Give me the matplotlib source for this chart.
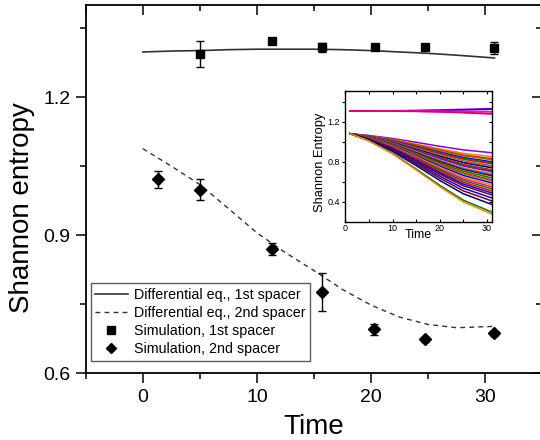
import matplotlib
matplotlib.use("Agg")
import matplotlib.pyplot as plt
from matplotlib.ticker import MultipleLocator

plt.rcParams['font.family'] = ['Liberation Sans', 'DejaVu Sans']

# ---- main chart data ----
t_model = [0, 2.5, 5, 7.5, 10, 12.5, 15, 17.5, 20, 22.5, 25, 27.5, 30.8]
de_first = [1.298, 1.300, 1.301, 1.303, 1.304, 1.304, 1.304, 1.303, 1.301, 1.298, 1.295, 1.291, 1.285]
de_second = [1.088, 1.050, 1.010, 0.958, 0.905, 0.862, 0.823, 0.782, 0.748, 0.722, 0.706, 0.699, 0.702]

t_sim1 = [5.05, 11.3, 15.7, 20.3, 24.7, 30.8]
sim_first = [1.294, 1.321, 1.308, 1.308, 1.309, 1.306]
err_first = [0.028, 0.004, 0.009, 0.004, 0.007, 0.013]

t_sim2 = [1.37, 5.05, 11.35, 15.72, 20.27, 24.73, 30.74]
sim_second = [1.021, 0.999, 0.870, 0.777, 0.696, 0.674, 0.687]
err_second = [0.018, 0.023, 0.013, 0.0415, 0.012, 0.005, 0.005]

legend_labels = ["Differential eq., 1st spacer", "Differential eq., 2nd spacer",
                 "Simulation, 1st spacer", "Simulation, 2nd spacer"]

# ---- inset data ----
t_inset = [1, 5, 10, 15, 20, 25, 31]
inset_upper = [
    [1.305, 1.306, 1.308, 1.311, 1.316, 1.322, 1.330],
    [1.305, 1.306, 1.307, 1.309, 1.312, 1.316, 1.322],
    [1.305, 1.305, 1.306, 1.306, 1.305, 1.302, 1.298],
    [1.305, 1.305, 1.305, 1.303, 1.299, 1.292, 1.282],
    [1.305, 1.305, 1.304, 1.301, 1.296, 1.288, 1.275],
]
inset_upper_colors = ['#8000FF', '#3C00A0', '#FF00FF', '#FF0080', '#E0006E']

inset_lower = [
    [1.079, 1.062, 1.032, 0.994, 0.954, 0.918, 0.890],
    [1.079, 1.058, 1.022, 0.976, 0.928, 0.884, 0.850],
    [1.079, 1.057, 1.017, 0.967, 0.915, 0.867, 0.830],
    [1.079, 1.056, 1.014, 0.962, 0.908, 0.859, 0.820],
    [1.079, 1.054, 1.009, 0.953, 0.895, 0.842, 0.800],
    [1.079, 1.053, 1.007, 0.949, 0.888, 0.833, 0.790],
    [1.079, 1.052, 1.004, 0.944, 0.882, 0.825, 0.780],
    [1.079, 1.050, 0.999, 0.935, 0.868, 0.808, 0.760],
    [1.079, 1.049, 0.997, 0.931, 0.862, 0.799, 0.750],
    [1.079, 1.048, 0.994, 0.926, 0.855, 0.791, 0.740],
    [1.079, 1.047, 0.989, 0.917, 0.842, 0.774, 0.720],
    [1.079, 1.046, 0.987, 0.913, 0.835, 0.765, 0.710],
    [1.079, 1.045, 0.984, 0.908, 0.829, 0.757, 0.700],
    [1.079, 1.043, 0.979, 0.899, 0.816, 0.740, 0.680],
    [1.079, 1.042, 0.977, 0.895, 0.809, 0.731, 0.670],
    [1.079, 1.041, 0.974, 0.890, 0.802, 0.723, 0.660],
    [1.079, 1.039, 0.969, 0.881, 0.789, 0.706, 0.640],
    [1.079, 1.038, 0.964, 0.872, 0.776, 0.689, 0.620],
    [1.079, 1.037, 0.962, 0.868, 0.769, 0.680, 0.610],
    [1.079, 1.035, 0.957, 0.859, 0.756, 0.663, 0.590],
    [1.079, 1.033, 0.952, 0.850, 0.743, 0.646, 0.570],
    [1.079, 1.031, 0.947, 0.841, 0.730, 0.629, 0.550],
    [1.079, 1.030, 0.942, 0.832, 0.717, 0.612, 0.530],
    [1.079, 1.028, 0.937, 0.823, 0.703, 0.595, 0.510],
    [1.079, 1.026, 0.932, 0.814, 0.690, 0.578, 0.490],
    [1.079, 1.024, 0.927, 0.805, 0.677, 0.561, 0.470],
    [1.079, 1.021, 0.919, 0.791, 0.657, 0.536, 0.440],
    [1.079, 1.019, 0.912, 0.778, 0.637, 0.510, 0.410],
    [1.079, 1.016, 0.903, 0.762, 0.614, 0.481, 0.375],
    [1.079, 1.009, 0.884, 0.728, 0.565, 0.417, 0.300],
    [1.079, 1.007, 0.879, 0.719, 0.552, 0.400, 0.280],
]
inset_lower_colors = ['#8000FF', '#FF8000', '#FF0000', '#808000', '#0000FF', '#008000',
                      '#FF0000', '#008080', '#FF8000', '#000080', '#FF0000', '#008000',
                      '#8000FF', '#FF8000', '#0080FF', '#800000', '#008000', '#FF0000',
                      '#808000', '#0000FF', '#FF8000', '#FF0080', '#008000', '#FF0000',
                      '#0000FF', '#800000', '#0000FF', '#800000', '#000080', '#008000',
                      '#FF8000']

# ---- figure ----
fig = plt.figure(figsize=(5.4, 4.4), dpi=100)
ax = fig.add_axes([0.1587, 0.1516, 0.8457, 0.837])

line1, = ax.plot(t_model, de_first, '-', color='#333333', lw=1.2)
line2, = ax.plot(t_model, de_second, color='#333333', lw=1.0, linestyle=(0, (3.5, 3)))
eb1 = ax.errorbar(t_sim1, sim_first, yerr=err_first, fmt='s', color='black',
                  ms=6, capsize=2.8, elinewidth=1, capthick=1)
eb2 = ax.errorbar(t_sim2, sim_second, yerr=err_second, fmt='D', color='black',
                  ms=6, capsize=2.8, elinewidth=1, capthick=1)

ax.set_xlim(-5, 35)
ax.set_ylim(0.6, 1.4)
ax.xaxis.set_major_locator(MultipleLocator(10))
ax.xaxis.set_minor_locator(MultipleLocator(5))
ax.yaxis.set_major_locator(MultipleLocator(0.3))
ax.yaxis.set_minor_locator(MultipleLocator(0.15))
ax.set_yticks([0.6, 0.9, 1.2])
ax.set_yticklabels(['0.6', '0.9', '1.2'])
ax.set_xticks([0, 10, 20, 30])
ax.tick_params(axis='both', which='both', top=True, right=True, labelsize=14, width=1.1, pad=4)
ax.tick_params(axis='both', which='major', length=7)
ax.tick_params(axis='both', which='minor', length=4)
ax.tick_params(axis='x', which='both', direction='out')
ax.tick_params(axis='y', which='both', direction='out')
# top/right ticks inward
for tk in ax.xaxis.get_major_ticks() + ax.xaxis.get_minor_ticks():
    tk.tick2line.set_marker(3)  # TICKDOWN
for tk in ax.yaxis.get_major_ticks() + ax.yaxis.get_minor_ticks():
    tk.tick2line.set_marker(0)  # TICKLEFT
for sp in ax.spines.values():
    sp.set_linewidth(1.3)

ax.set_xlabel('Time', fontsize=20)
ax.set_ylabel('Shannon entropy', fontsize=20)
ax.xaxis.set_label_coords(0.5, -0.11)
ax.yaxis.set_label_coords(-0.112, 0.45)

leg = ax.legend([line1, line2, eb1[0], eb2[0]], legend_labels, loc='lower left',
                bbox_to_anchor=(0.011, 0.034), borderaxespad=0, fontsize=10.3,
                frameon=True, fancybox=False, handlelength=2.3, handletextpad=0.4,
                labelspacing=0.3, borderpad=0.3, markerscale=0.9)
leg.get_frame().set_edgecolor('#333333')
leg.get_frame().set_linewidth(1.0)

# ---- inset ----
axi = fig.add_axes([0.6395, 0.4955, 0.271, 0.2966])
axi.set_zorder(5)
for vals, c in zip(inset_lower, inset_lower_colors):
    axi.plot(t_inset, vals, color=c, lw=1.1)
for vals, c in zip(inset_upper, inset_upper_colors):
    axi.plot(t_inset, vals, color=c, lw=1.1)
axi.set_xlim(0, 31)
axi.set_ylim(0.2, 1.5)
axi.xaxis.set_major_locator(MultipleLocator(10))
axi.xaxis.set_minor_locator(MultipleLocator(5))
axi.yaxis.set_major_locator(MultipleLocator(0.4))
axi.set_yticks([0.4, 0.8, 1.2])
axi.set_yticks([0.6, 1.0, 1.4], minor=True)
axi.tick_params(axis='both', which='both', top=True, right=True, labelsize=6.5,
                length=2.5, width=0.8, pad=1.5)
axi.tick_params(axis='x', which='both', direction='in')
axi.tick_params(axis='y', which='both', direction='out')
for tk in axi.yaxis.get_major_ticks() + axi.yaxis.get_minor_ticks():
    tk.tick2line.set_marker(0)
for sp in axi.spines.values():
    sp.set_linewidth(1.0)
axi.set_xlabel('Time', fontsize=9)
axi.set_ylabel('Shannon Entropy', fontsize=9.3)
axi.xaxis.set_label_coords(0.5, -0.05)
axi.yaxis.set_label_coords(-0.13, 0.46)

fig.savefig('out.png', dpi=100)
